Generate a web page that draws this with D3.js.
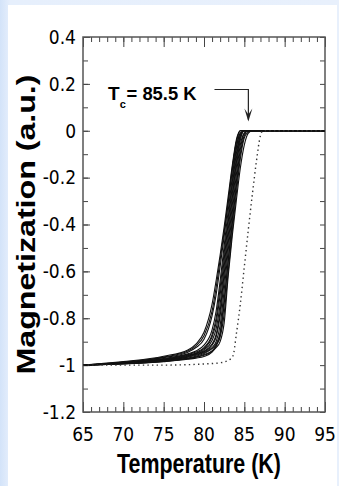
<!DOCTYPE html>
<html>
<head>
<meta charset="utf-8">
<script src="https://cdn.jsdelivr.net/npm/d3@7"></script>
<style>
  body { margin: 0; background: #e4edfb; }
  svg { display: block; }
</style>
</head>
<body>
<div id="chart"></div>
<script>
// temperatures (K) shared by the solid curves
var temps = [65, 70, 75, 78, 79, 80, 81, 81.5, 82, 82.5, 83, 83.5, 84, 84.5, 85, 85.5, 86, 95]

// magnetization curves (solid bundle)
var curveA = [-1, -0.985, -0.962, -0.935, -0.91, -0.86, -0.74, -0.64, -0.53, -0.41, -0.28, -0.15, -0.04, 0, 0, 0, 0, 0]
var curveB = [-1, -0.988, -0.968, -0.945, -0.925, -0.89, -0.79, -0.70, -0.58, -0.45, -0.31, -0.17, -0.05, 0, 0, 0, 0, 0]
var curveC = [-1, -0.99, -0.972, -0.952, -0.94, -0.915, -0.85, -0.77, -0.64, -0.49, -0.34, -0.20, -0.07, -0.01, 0, 0, 0, 0]
var curveD = [-1, -0.99, -0.975, -0.958, -0.948, -0.93, -0.88, -0.82, -0.70, -0.55, -0.39, -0.24, -0.10, -0.02, 0, 0, 0, 0]
var curveE = [-1, -0.992, -0.978, -0.962, -0.952, -0.94, -0.91, -0.87, -0.77, -0.61, -0.45, -0.29, -0.14, -0.03, 0, 0, 0, 0]
var curveF = [-1, -0.993, -0.98, -0.966, -0.958, -0.946, -0.925, -0.90, -0.83, -0.68, -0.51, -0.35, -0.19, -0.06, -0.01, 0, 0, 0]
var curveG = [-1, -0.995, -0.985, -0.975, -0.97, -0.963, -0.945, -0.92, -0.87, -0.74, -0.55, -0.38, -0.22, -0.08, -0.01, 0, 0, 0]
var curveH = [-1, -0.994, -0.983, -0.972, -0.965, -0.955, -0.94, -0.925, -0.90, -0.82, -0.62, -0.45, -0.30, -0.16, -0.06, -0.01, 0, 0]
var curveI = [-1, -0.99, -0.974, -0.955, -0.944, -0.925, -0.87, -0.80, -0.67, -0.52, -0.37, -0.22, -0.08, -0.01, 0, 0, 0, 0]
var curveJ = [-1, -0.991, -0.977, -0.96, -0.95, -0.935, -0.895, -0.845, -0.74, -0.58, -0.42, -0.27, -0.12, -0.02, 0, 0, 0, 0]
var curveK = [-1, -0.992, -0.979, -0.964, -0.955, -0.943, -0.915, -0.88, -0.79, -0.64, -0.48, -0.32, -0.16, -0.04, 0, 0, 0, 0]
var curveL = [-1, -0.987, -0.966, -0.94, -0.918, -0.875, -0.77, -0.67, -0.55, -0.43, -0.30, -0.16, -0.05, 0, 0, 0, 0, 0]
var curveM = [-1, -0.993, -0.982, -0.97, -0.962, -0.95, -0.93, -0.91, -0.86, -0.72, -0.56, -0.40, -0.24, -0.10, -0.02, 0, 0, 0]
var curveN = [-1, -0.994, -0.984, -0.973, -0.966, -0.958, -0.94, -0.915, -0.88, -0.78, -0.60, -0.43, -0.27, -0.12, -0.03, -0.005, 0, 0]
var solidCurves = [curveA, curveB, curveC, curveD, curveE, curveF, curveG, curveH, curveI, curveJ, curveK, curveL, curveM, curveN]

// dotted reference curve
var dotTemps = [65, 70, 75, 78, 80, 82, 83, 83.6, 84, 84.5, 85, 85.5, 86, 86.5, 87, 87.3, 95]
var dotVals = [-1, -1, -1, -0.998, -0.995, -0.99, -0.98, -0.96, -0.87, -0.74, -0.58, -0.42, -0.27, -0.13, -0.02, 0, 0]

var xTicks = [65, 70, 75, 80, 85, 90, 95]
var yTicks = [0.4, 0.2, 0, -0.2, -0.4, -0.6, -0.8, -1, -1.2]
var tc = 85.5

var W = 339, H = 486
var margin = { top: 37, right: 14, bottom: 74, left: 83 }
var width = W - margin.left - margin.right
var height = H - margin.top - margin.bottom
var tickFont = '"Liberation Sans Narrow", "DejaVu Sans Condensed", sans-serif'

var svg = d3.select('#chart').append('svg')
  .attr('width', W)
  .attr('height', H)

var grad = svg.append('defs').append('linearGradient')
  .attr('id', 'bg')
  .attr('x1', 0).attr('x2', 1).attr('y1', 0).attr('y2', 0)
grad.append('stop').attr('offset', '0%').attr('stop-color', '#d3e3f9')
grad.append('stop').attr('offset', '3%').attr('stop-color', '#e6effc')
grad.append('stop').attr('offset', '100%').attr('stop-color', '#e8f0fc')

svg.append('rect').attr('width', W).attr('height', H).attr('fill', 'url(#bg)')
svg.append('rect')
  .attr('x', 8).attr('y', 5)
  .attr('width', W - 10).attr('height', H - 5)
  .attr('fill', '#fff')

var g = svg.append('g')
  .attr('transform', 'translate(' + margin.left + ',' + margin.top + ')')

var x = d3.scaleLinear().domain([65, 95]).range([0, width])
var y = d3.scaleLinear().domain([-1.2, 0.4]).range([height, 0])

var minorX = d3.range(65, 96, 1)
var minorY = d3.range(-12, 5, 1).map(d => d / 10)

// inward ticks on all four sides
function tickAxis(axis, ticks, size) {
  return axis.tickValues(ticks).tickSize(size).tickFormat('')
}
g.append('g').attr('class', 'ax').attr('transform', 'translate(0,' + height + ')')
  .call(tickAxis(d3.axisTop(x), minorX, 5))
g.append('g').attr('class', 'ax').attr('transform', 'translate(0,' + height + ')')
  .call(tickAxis(d3.axisTop(x), xTicks, 10))
g.append('g').attr('class', 'ax')
  .call(tickAxis(d3.axisBottom(x), minorX, 5))
g.append('g').attr('class', 'ax')
  .call(tickAxis(d3.axisBottom(x), xTicks, 10))
g.append('g').attr('class', 'ax')
  .call(tickAxis(d3.axisRight(y), minorY, 5))
g.append('g').attr('class', 'ax')
  .call(tickAxis(d3.axisRight(y), yTicks, 7))
g.append('g').attr('class', 'ax').attr('transform', 'translate(' + width + ',0)')
  .call(tickAxis(d3.axisLeft(y), minorY, 5))

g.selectAll('.ax .domain').remove()
g.selectAll('.ax line').attr('stroke', '#444').attr('stroke-width', 1)

g.append('rect')
  .attr('width', width).attr('height', height)
  .attr('fill', 'none').attr('stroke', '#555').attr('stroke-width', 1.5)

// tick labels
g.selectAll('.xlab').data(xTicks).enter().append('text')
  .attr('x', d => x(d))
  .attr('y', height + 29)
  .attr('text-anchor', 'middle')
  .style('font-family', tickFont).style('font-size', '19px')
  .text(d => d)

g.selectAll('.ylab').data(yTicks).enter().append('text')
  .attr('x', -7)
  .attr('y', d => y(d))
  .attr('dy', '0.36em')
  .attr('text-anchor', 'end')
  .style('font-family', tickFont).style('font-size', '19px')
  .text(d => d)

// curves
var line = d3.line()
  .x(d => x(d[0]))
  .y(d => y(d[1]))
  .curve(d3.curveMonotoneX)

g.selectAll('.solid').data(solidCurves).enter().append('path')
  .attr('d', c => line(temps.map((t, i) => [t, c[i]])))
  .attr('fill', 'none')
  .attr('stroke', '#111')
  .attr('stroke-width', 1.1)

g.append('path')
  .attr('d', line(dotTemps.map((t, i) => [t, dotVals[i]])))
  .attr('fill', 'none')
  .attr('stroke', '#333')
  .attr('stroke-width', 1.4)
  .attr('stroke-dasharray', '1.4,3.2')

// Tc annotation with arrow
var ay = y(0.176)
var tipY = y(0.04)
g.append('path')
  .attr('d', 'M' + x(81.3) + ',' + ay + 'H' + x(tc) + 'V' + (tipY - 2))
  .attr('fill', 'none').attr('stroke', '#222').attr('stroke-width', 1.2)
g.append('path')
  .attr('d', 'M' + (x(tc) - 4) + ',' + (tipY - 13) + 'L' + x(tc) + ',' + tipY +
    'L' + (x(tc) + 4) + ',' + (tipY - 13) + 'L' + x(tc) + ',' + (tipY - 7) + 'Z')
  .attr('fill', '#222')

var labY = y(0.13)
var labFont = '"Liberation Sans Narrow", "Liberation Sans", sans-serif'
g.append('text')
  .attr('x', x(68.1)).attr('y', labY)
  .style('font-family', labFont).style('font-size', '19px').style('font-weight', 'bold')
  .text('T')
g.append('text')
  .attr('x', x(69.55)).attr('y', labY + 8)
  .style('font-family', labFont).style('font-size', '11px').style('font-weight', 'bold')
  .text('c')
g.append('text')
  .attr('x', x(70.4)).attr('y', labY)
  .attr('textLength', 70).attr('lengthAdjust', 'spacingAndGlyphs')
  .style('font-family', labFont).style('font-size', '19px').style('font-weight', 'bold')
  .text('= 85.5 K')

// axis titles
g.append('text')
  .attr('x', width / 2 - 5)
  .attr('y', height + 61)
  .attr('text-anchor', 'middle')
  .attr('textLength', 164).attr('lengthAdjust', 'spacingAndGlyphs')
  .style('font-family', 'Liberation Sans, Arial, sans-serif')
  .style('font-size', '27px').style('font-weight', 'bold')
  .text('Temperature (K)')

g.append('text')
  .attr('transform', 'translate(' + (-48) + ',' + y(-0.4) + ') rotate(-90)')
  .attr('text-anchor', 'middle')
  .attr('textLength', 300).attr('lengthAdjust', 'spacingAndGlyphs')
  .style('font-family', 'Liberation Sans, Arial, sans-serif')
  .style('font-size', '25px').style('font-weight', 'bold')
  .text('Magnetization (a.u.)')
</script>
</body>
</html>
